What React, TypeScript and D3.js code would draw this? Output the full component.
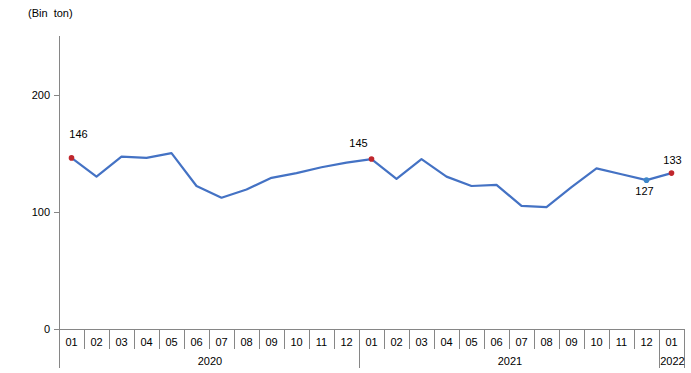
import React, { useRef, useEffect } from "react";
import * as d3 from "d3";

const months = ["01", "02", "03", "04", "05", "06", "07", "08", "09", "10", "11", "12",
  "01", "02", "03", "04", "05", "06", "07", "08", "09", "10", "11", "12", "01"];
const years = [
  { label: "2020", start: 0, count: 12 },
  { label: "2021", start: 12, count: 12 },
  { label: "2022", start: 24, count: 1 },
];
const values = [146, 130, 147, 146, 150, 122, 112, 119, 129, 133, 138, 142,
  145, 128, 145, 130, 122, 123, 105, 104, 121, 137, 132, 127, 133];
const yTicks = [0, 100, 200];
// labelled points: index, colour, label offset
const labelled = [
  { i: 0, color: "#c0272d", dx: 7, dy: -20 },
  { i: 12, color: "#c0272d", dx: -13, dy: -12 },
  { i: 23, color: "#3f87c9", dx: -2, dy: 15 },
  { i: 24, color: "#c0272d", dx: 1, dy: -9 },
];

const App = () => {
  const svgRef = useRef<SVGSVGElement | null>(null);

  useEffect(() => {
    const width = 691;
    const height = 373;
    const svg = d3.select(svgRef.current);
    svg.selectAll("*").remove();
    svg.attr("width", width).attr("height", height);

    const left = 59;
    const right = 684;
    const top = 36;
    const bottom = 329;
    const axisColor = "#868686";
    const font = "Liberation Sans, Arial, sans-serif";

    const x = d3.scaleBand<number>().domain(d3.range(months.length)).range([left, right]);
    const y = d3.scaleLinear().domain([0, 250]).range([bottom, top]);
    const cx = (i: number) => (x(i) as number) + x.bandwidth() / 2;

    // unit label
    svg.append("text").attr("x", 28).attr("y", 17).text("(Bin  ton)")
      .style("white-space", "pre")
      .style("font-family", font).style("font-size", "11px");

    // y axis
    svg.append("line").attr("x1", left + 0.5).attr("x2", left + 0.5)
      .attr("y1", top).attr("y2", 368).attr("stroke", axisColor);
    yTicks.forEach((t) => {
      svg.append("line").attr("x1", left - 5).attr("x2", left)
        .attr("y1", Math.round(y(t)) + 0.5).attr("y2", Math.round(y(t)) + 0.5)
        .attr("stroke", axisColor);
      svg.append("text").attr("x", left - 9).attr("y", y(t) + 4)
        .attr("text-anchor", "end").text(t)
        .style("font-family", font).style("font-size", "11px");
    });

    // x axis
    svg.append("line").attr("x1", left).attr("x2", right)
      .attr("y1", bottom + 0.5).attr("y2", bottom + 0.5).attr("stroke", axisColor);
    months.forEach((m, i) => {
      const bx = Math.round((x(i) as number) + x.bandwidth());
      const isYearEnd = years.some((yr) => yr.start + yr.count === i + 1);
      svg.append("line").attr("x1", bx + 0.5).attr("x2", bx + 0.5)
        .attr("y1", bottom).attr("y2", isYearEnd ? 368 : 349).attr("stroke", axisColor);
      svg.append("text").attr("x", cx(i)).attr("y", bottom + 17)
        .attr("text-anchor", "middle").text(m)
        .style("font-family", font).style("font-size", "11px");
    });
    years.forEach((yr) => {
      const x0 = x(yr.start) as number;
      const x1 = (x(yr.start + yr.count - 1) as number) + x.bandwidth();
      svg.append("text").attr("x", (x0 + x1) / 2 + 1).attr("y", bottom + 36)
        .attr("text-anchor", "middle").text(yr.label)
        .style("font-family", font).style("font-size", "11px");
    });

    // line
    const line = d3.line<number>().x((_, i) => cx(i)).y((d) => y(d));
    svg.append("path").datum(values).attr("d", line)
      .attr("fill", "none").attr("stroke", "#4472c4").attr("stroke-width", 2.2)
      .attr("stroke-linejoin", "round");

    labelled.forEach((p) => {
      svg.append("circle").attr("cx", cx(p.i)).attr("cy", y(values[p.i])).attr("r", 2.8)
        .attr("fill", p.color);
      svg.append("text").attr("x", cx(p.i) + p.dx).attr("y", y(values[p.i]) + p.dy)
        .attr("text-anchor", "middle").text(values[p.i])
        .style("font-family", font).style("font-size", "11px");
    });
  }, []);

  return <svg ref={svgRef} style={{ position: "absolute", left: 0, top: 0 }}></svg>;
};

export default App;
